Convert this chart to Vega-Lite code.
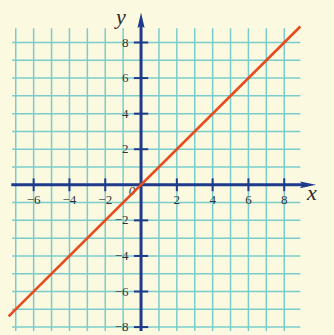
{
  "$schema": "https://vega.github.io/schema/vega-lite/v6.json",
  "width": 334,
  "height": 335,
  "autosize": {"type": "fit", "contains": "padding"},
  "padding": 0,
  "background": "#fcf9e1",
  "config": {"view": {"stroke": null}},
  "datasets": {
    "vgrid": [{"v": -7}, {"v": -6}, {"v": -5}, {"v": -4}, {"v": -3}, {"v": -2}, {"v": -1}, {"v": 0}, {"v": 1}, {"v": 2}, {"v": 3}, {"v": 4}, {"v": 5}, {"v": 6}, {"v": 7}, {"v": 8}],
    "hgrid": [{"v": -8}, {"v": -7}, {"v": -6}, {"v": -5}, {"v": -4}, {"v": -3}, {"v": -2}, {"v": -1}, {"v": 0}, {"v": 1}, {"v": 2}, {"v": 3}, {"v": 4}, {"v": 5}, {"v": 6}, {"v": 7}, {"v": 8}],
    "xticks": [{"v": -6, "t": "−6"}, {"v": -4, "t": "−4"}, {"v": -2, "t": "−2"}, {"v": 2, "t": "2"}, {"v": 4, "t": "4"}, {"v": 6, "t": "6"}, {"v": 8, "t": "8"}],
    "yticks": [{"v": -8, "t": "−8"}, {"v": -6, "t": "−6"}, {"v": -4, "t": "−4"}, {"v": -2, "t": "−2"}, {"v": 2, "t": "2"}, {"v": 4, "t": "4"}, {"v": 6, "t": "6"}, {"v": 8, "t": "8"}],
    "line": [{"x": -7.4, "y": -7.4}, {"x": 8.9, "y": 8.9}]
  },
  "layer": [
    {
      "data": {"name": "vgrid"},
      "mark": {"type": "rule", "color": "#7acccc", "strokeWidth": 1.5, "clip": true},
      "encoding": {
        "x": {"field": "v", "type": "quantitative", "scale": {"domain": [-7.88, 10.78], "nice": false, "zero": false}, "axis": null},
        "y": {"datum": -8.3, "type": "quantitative", "scale": {"domain": [-8.22, 10.39], "nice": false, "zero": false}, "axis": null},
        "y2": {"datum": 8.8}
      }
    },
    {
      "data": {"name": "hgrid"},
      "mark": {"type": "rule", "color": "#7acccc", "strokeWidth": 1.5, "clip": true},
      "encoding": {
        "y": {"field": "v", "type": "quantitative"},
        "x": {"datum": -7.2, "type": "quantitative"},
        "x2": {"datum": 8.9}
      }
    },
    {
      "data": {"values": [{"v": 0}]},
      "mark": {"type": "rule", "color": "#1e3a8c", "strokeWidth": 3, "clip": true},
      "encoding": {
        "y": {"field": "v", "type": "quantitative"},
        "x": {"datum": -7.25, "type": "quantitative"},
        "x2": {"datum": 9.3}
      }
    },
    {
      "data": {"values": [{"v": 0}]},
      "mark": {"type": "rule", "color": "#1e3a8c", "strokeWidth": 3, "clip": true},
      "encoding": {
        "x": {"field": "v", "type": "quantitative"},
        "y": {"datum": -8.4, "type": "quantitative"},
        "y2": {"datum": 9.2}
      }
    },
    {
      "data": {"values": [{"v": 9.33}]},
      "mark": {"type": "point", "filled": true, "color": "#1e3a8c", "opacity": 1, "size": 256, "shape": "M1,0 L-1,-0.42 L-0.7,0 L-1,0.42 Z"},
      "encoding": {
        "x": {"field": "v", "type": "quantitative"},
        "y": {"datum": 0, "type": "quantitative"}
      }
    },
    {
      "data": {"values": [{"v": 9.25}]},
      "mark": {"type": "point", "filled": true, "color": "#1e3a8c", "opacity": 1, "size": 240, "shape": "M0,-1 L0.46,1 L0,0.7 L-0.46,1 Z"},
      "encoding": {
        "y": {"field": "v", "type": "quantitative"},
        "x": {"datum": 0, "type": "quantitative"}
      }
    },
    {
      "data": {"name": "xticks"},
      "mark": {"type": "rule", "color": "#1e3a8c", "strokeWidth": 2},
      "encoding": {
        "x": {"field": "v", "type": "quantitative"},
        "y": {"datum": -0.36, "type": "quantitative"},
        "y2": {"datum": 0.36}
      }
    },
    {
      "data": {"name": "yticks"},
      "mark": {"type": "rule", "color": "#1e3a8c", "strokeWidth": 2},
      "encoding": {
        "y": {"field": "v", "type": "quantitative"},
        "x": {"datum": -0.4, "type": "quantitative"},
        "x2": {"datum": 0.4}
      }
    },
    {
      "data": {"name": "xticks"},
      "mark": {"type": "text", "font": "Liberation Serif", "fontSize": 13, "color": "#333333", "align": "center", "baseline": "middle"},
      "encoding": {
        "x": {"field": "v", "type": "quantitative"},
        "y": {"datum": -0.88, "type": "quantitative"},
        "text": {"field": "t"}
      }
    },
    {
      "data": {"name": "yticks"},
      "mark": {"type": "text", "font": "Liberation Serif", "fontSize": 13, "color": "#333333", "align": "right", "baseline": "middle"},
      "encoding": {
        "y": {"field": "v", "type": "quantitative"},
        "x": {"datum": -0.7, "type": "quantitative"},
        "text": {"field": "t"}
      }
    },
    {
      "data": {"values": [{"t": "0"}]},
      "mark": {"type": "text", "font": "Liberation Serif", "fontStyle": "italic", "fontSize": 13, "color": "#333333", "align": "center", "baseline": "middle"},
      "encoding": {
        "x": {"datum": -0.5, "type": "quantitative"},
        "y": {"datum": -0.33, "type": "quantitative"},
        "text": {"field": "t"}
      }
    },
    {
      "data": {"values": [{"t": "x"}]},
      "mark": {"type": "text", "font": "Liberation Serif", "fontStyle": "italic", "fontSize": 22, "color": "#2a2a2a", "align": "center", "baseline": "alphabetic"},
      "encoding": {
        "x": {"datum": 9.55, "type": "quantitative"},
        "y": {"datum": -0.83, "type": "quantitative"},
        "text": {"field": "t"}
      }
    },
    {
      "data": {"values": [{"t": "y"}]},
      "mark": {"type": "text", "font": "Liberation Serif", "fontStyle": "italic", "fontSize": 22, "color": "#2a2a2a", "align": "center", "baseline": "alphabetic"},
      "encoding": {
        "x": {"datum": -1.12, "type": "quantitative"},
        "y": {"datum": 9.06, "type": "quantitative"},
        "text": {"field": "t"}
      }
    },
    {
      "data": {"name": "line"},
      "mark": {"type": "line", "color": "#e84c1e", "strokeWidth": 2.6, "clip": true},
      "encoding": {
        "x": {"field": "x", "type": "quantitative"},
        "y": {"field": "y", "type": "quantitative"}
      }
    }
  ]
}
